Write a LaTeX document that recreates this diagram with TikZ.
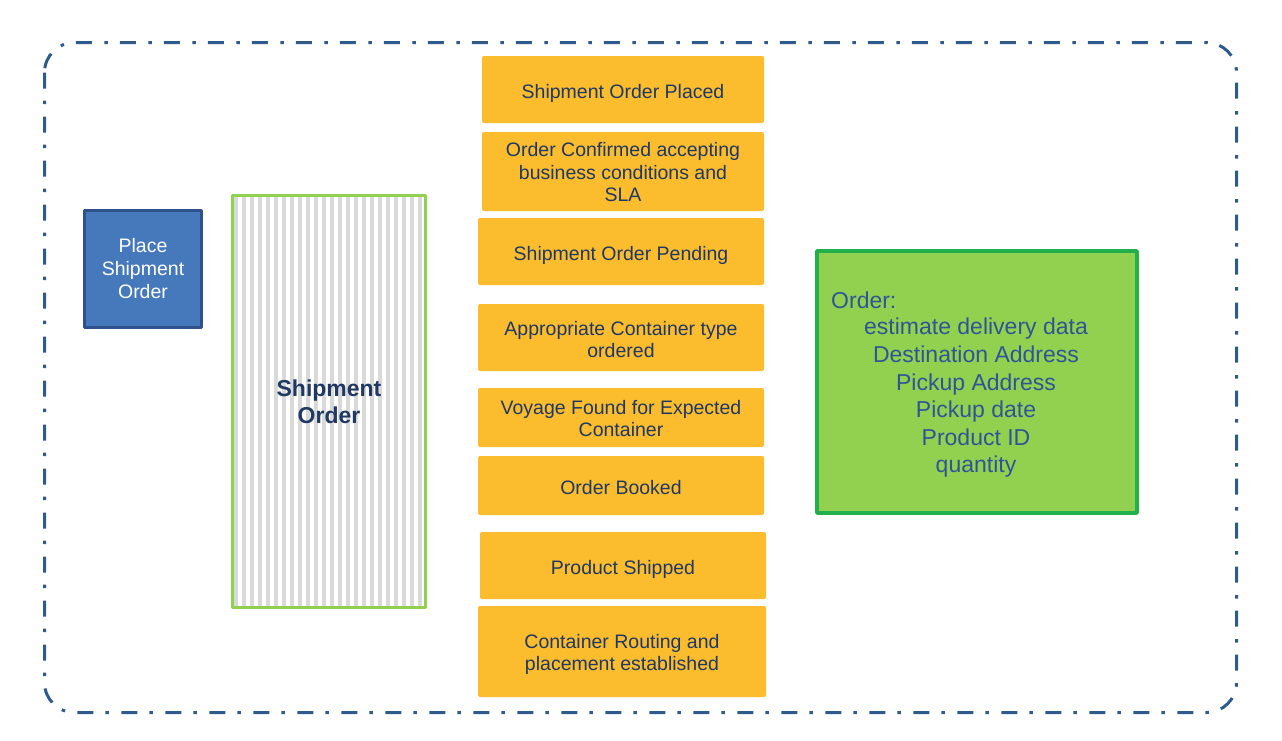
\documentclass[tikz,border=0pt]{standalone}
\usepackage{fontspec}
\setmainfont{Liberation Sans}
\definecolor{frameblue}{HTML}{2E5B8E}
\definecolor{placefill}{HTML}{4678BC}
\definecolor{placeline}{HTML}{2F528F}
\definecolor{shipgreen}{HTML}{92D050}
\definecolor{stripegray}{HTML}{D9D9D9}
\definecolor{stateorange}{HTML}{FBBC2E}
\definecolor{navytext}{HTML}{1F3864}
\definecolor{ordergreen}{HTML}{92D050}
\definecolor{orderline}{HTML}{22B04C}
\definecolor{ordertext}{HTML}{2F5597}
\begin{document}
\begin{tikzpicture}[x=1pt,y=-1pt, line join=round,
	statebox/.style={fill=stateorange, rounded corners=2pt, inner sep=0pt, text=navytext, font=\fontsize{19.5}{22.5}\selectfont},
	oneline/.style={text height=17pt, text depth=0pt},
	multiline/.style={align=center, text height=#1},
	placebox/.style={fill=placefill, draw=placeline, line width=3pt, minimum width=117pt, minimum height=117pt, inner sep=0pt, align=center, text=white, font=\fontsize{19.5}{23}\selectfont},
	shipbox/.style={draw=shipgreen, line width=3pt, minimum width=193pt, minimum height=412pt, inner sep=0pt, align=center, text=navytext, font=\bfseries\fontsize{23}{27}\selectfont},
	orderbox/.style={fill=ordergreen, draw=orderline, line width=3.5pt, minimum width=320pt, minimum height=262pt, inner sep=0pt},
	ordertxt/.style={inner sep=0pt, align=center, text=ordertext, font=\fontsize{23}{27.6}\selectfont}]
	\useasboundingbox (0,0) rectangle (1282,740);
	% outer frame
	\draw[frameblue, line width=3pt, rounded corners=30pt, dash pattern=on 16pt off 12pt on 3.5pt off 12.5pt] (44.5,42.5) rectangle (1236.5,712.5);
	
	\node[placebox] (place) at (143,269) {Place\\Shipment\\Order};
	
	\foreach \sx in {234,242,...,418} \fill[stripegray] (\sx,196) rectangle ++(4,411);
	\node[shipbox] (shipment) at (329,401.5) {Shipment\\Order};
	
	\node[statebox, oneline, minimum width=282pt, minimum height=67pt] (placed) at (623,89.5) {Shipment Order Placed};
	\node[statebox, multiline=61pt, minimum width=282pt, minimum height=79pt] (confirmed) at (623,171.5) {Order Confirmed accepting\\business conditions and\\SLA};
	\node[statebox, oneline, minimum width=286pt, minimum height=67pt] (pending) at (621,251.5) {Shipment Order Pending};
	\node[statebox, multiline=40.5pt, minimum width=286pt, minimum height=67pt] (container) at (621,337.5) {Appropriate Container type\\ordered};
	\node[statebox, multiline=38.5pt, minimum width=286pt, minimum height=59pt] (voyage) at (621,417.5) {Voyage Found for Expected\\Container};
	\node[statebox, oneline, minimum width=286pt, minimum height=59pt] (booked) at (621,485.5) {Order Booked};
	\node[statebox, oneline, minimum width=286pt, minimum height=67pt] (shipped) at (623,565.5) {Product Shipped};
	\node[statebox, multiline=42.5pt, minimum width=288pt, minimum height=91pt] (routing) at (622,651.5) {Container Routing and\\placement established};
	
	\node[orderbox] (order) at (977,382) {};
	\node[ordertxt, anchor=west] (orderhead) at (831,300) {Order:};
	\node[ordertxt] (orderlines) at (976,398) {estimate delivery data\\Destination Address\\Pickup Address\\Pickup date\\Product ID\\quantity};
\end{tikzpicture}
\end{document}
